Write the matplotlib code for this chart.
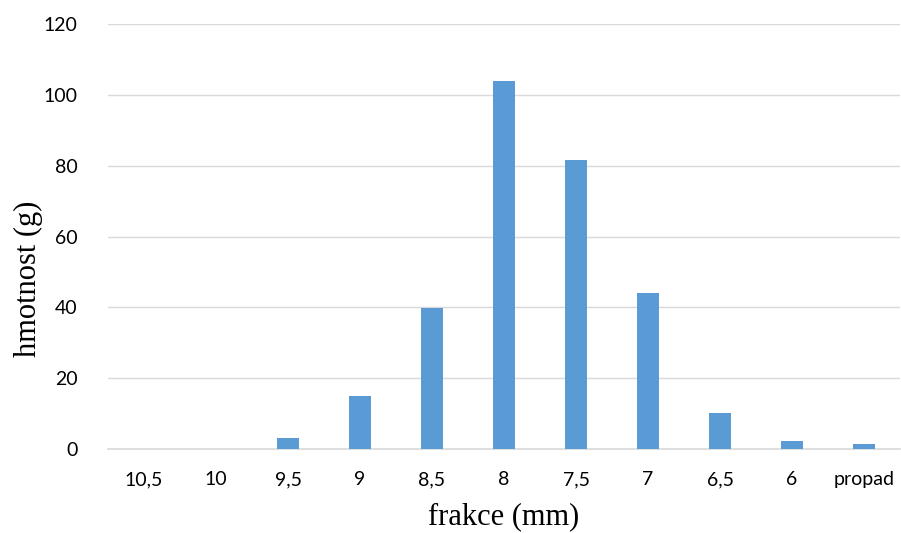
import matplotlib
matplotlib.use("Agg")
import matplotlib.pyplot as plt

categories = ["10,5", "10", "9,5", "9", "8,5", "8", "7,5", "7", "6,5", "6", "propad"]
values = [0, 0, 3.0, 15.0, 39.8, 104.0, 81.6, 44.0, 10.1, 2.3, 1.4]
yticks = [0, 20, 40, 60, 80, 100, 120]

fig = plt.figure(figsize=(9.01, 5.33), dpi=100)
ax = fig.add_axes([108/901, 1 - 449/533, 792/901, (449 - 24)/533])

x = list(range(len(categories)))
ax.bar(x, values, width=0.31, color="#5B9BD5", zorder=3)
ax.set_xlim(-0.5, len(categories) - 0.5)
ax.set_ylim(0, 120)
ax.set_yticks(yticks)
ax.set_yticklabels([str(v) for v in yticks])
ax.set_xticks(x)
ax.set_xticklabels(categories)
ax.grid(axis="y", color="#d9d9d9", linewidth=1, zorder=0)
for s in ["top", "right", "left"]:
    ax.spines[s].set_visible(False)
ax.spines["bottom"].set_color("#d9d9d9")
ax.spines["bottom"].set_linewidth(1.2)
ax.tick_params(axis="both", length=0, labelsize=14, labelcolor="#000000")
ax.tick_params(axis="x", pad=16)
ax.tick_params(axis="y", pad=22)
for lab in ax.get_xticklabels() + ax.get_yticklabels():
    lab.set_family("Lato")
ax.set_ylabel("hmotnost (g)", fontsize=22, family="Liberation Serif")
ax.yaxis.set_label_coords(-0.082, 0.40)
ax.set_xlabel("frakce (mm)", fontsize=22, family="Liberation Serif", labelpad=10)

fig.savefig("out.png", dpi=100)
